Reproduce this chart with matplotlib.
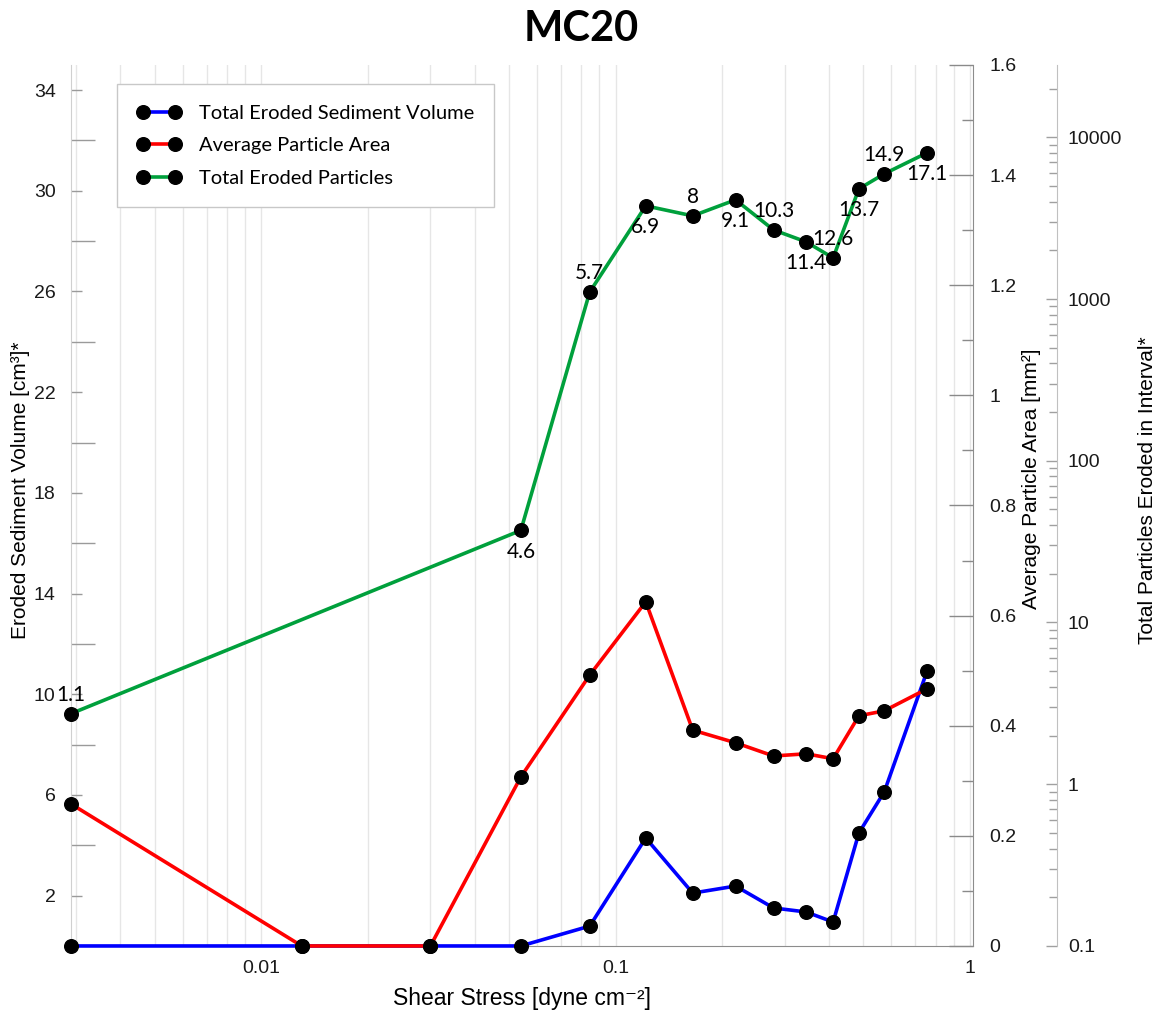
import matplotlib
matplotlib.use("Agg")
import matplotlib.pyplot as plt
from matplotlib.lines import Line2D
from matplotlib.ticker import FixedLocator, NullFormatter, LogLocator, FuncFormatter

# ---- data ---------------------------------------------------------------
shear_stress = [0.0029, 0.013, 0.030, 0.054, 0.0845, 0.1216, 0.165, 0.218,
                0.279, 0.345, 0.411, 0.486, 0.573, 0.757]
eroded_volume = [0, 0, 0, 0, 0.79, 4.29, 2.10, 2.38, 1.51, 1.35, 0.95,
                 4.49, 6.12, 10.92]
particle_area = [0.258, 0, 0, 0.307, 0.492, 0.625, 0.392, 0.369, 0.345,
                 0.349, 0.340, 0.418, 0.427, 0.467]
# intervals with no counted particles are left out of the particle series
particle_shear = [0.0029, 0.054, 0.0845, 0.1216, 0.165, 0.218, 0.279, 0.345,
                  0.411, 0.486, 0.573, 0.757]
particle_count = [2.73, 37.1, 1105, 3767, 3266, 4104, 2675, 2254, 1795,
                  4799, 5942, 8018]
interval_labels = ["1.1", "4.6", "5.7", "6.9", "8", "9.1", "10.3", "11.4",
                   "12.6", "13.7", "14.9", "17.1"]

series_names = ["Total Eroded Sediment Volume", "Average Particle Area",
                "Total Eroded Particles"]
series_colors = ["#0000ff", "#ff0000", "#00a03c"]

volume_ticks = [2, 6, 10, 14, 18, 22, 26, 30, 34]
volume_minor = [4, 8, 12, 16, 20, 24, 28, 32]
area_ticks = [0, 0.2, 0.4, 0.6, 0.8, 1.0, 1.2, 1.4, 1.6]
area_minor = [0.1, 0.3, 0.5, 0.7, 0.9, 1.1, 1.3, 1.5]
x_ticks = [0.01, 0.1, 1]

# ---- style --------------------------------------------------------------
tick_font = ["Liberation Sans", "DejaVu Sans"]
label_font = ["Liberation Sans Narrow", "Liberation Sans", "DejaVu Sans"]
note_font = ["Lato", "DejaVu Sans"]
tick_color = "#1a1a1a"
tick_size = 14
label_size = 15
line_kw = dict(lw=2.6, marker="o", ms=9.8, mfc="black", mec="black",
               clip_on=False, zorder=3)

fig = plt.figure(figsize=(11.63, 10.10), dpi=100)
ax = fig.add_axes([0.061, 0.0634, 0.7756, 0.8723])
ax2 = ax.twinx()
ax3 = ax.twinx()
ax3.spines["right"].set_position(("axes", 1.093))

# ---- lines --------------------------------------------------------------
ax.plot(shear_stress, eroded_volume, color=series_colors[0], **line_kw)
ax2.plot(shear_stress, particle_area, color=series_colors[1], **line_kw)
ax3.plot(particle_shear, particle_count, color=series_colors[2], **line_kw)

for i, (xv, yv, txt) in enumerate(zip(particle_shear, particle_count,
                                      interval_labels)):
    dy = 13.5 if i % 2 == 0 else -15.5
    ax3.annotate(txt, (xv, yv), xytext=(0, dy), textcoords="offset points",
                 ha="center", va="center", fontsize=15, family=note_font,
                 color="black", annotation_clip=False)

# ---- x axis -------------------------------------------------------------
ax.set_xscale("log")
ax.set_xlim(0.0029, 1.02)
ax.xaxis.set_major_locator(FixedLocator(x_ticks))
ax.xaxis.set_major_formatter(FuncFormatter(lambda v, p: f"{v:g}"))
ax.xaxis.set_minor_locator(LogLocator(base=10, subs=range(1, 10), numticks=20))
ax.xaxis.set_minor_formatter(NullFormatter())
ax.tick_params(axis="x", which="both", length=0, pad=10, labelsize=tick_size,
               labelcolor=tick_color)
ax.grid(True, axis="x", which="both", color="#e6e6e6", lw=1)
ax.set_axisbelow(True)
ax.set_xlabel("Shear Stress [dyne cm⁻²]", fontsize=16.5, family=label_font,
              labelpad=7)

# ---- left axis ----------------------------------------------------------
ax.set_ylim(0, 35)
ax.yaxis.set_major_locator(FixedLocator(volume_ticks))
ax.yaxis.set_minor_locator(FixedLocator(volume_minor))
ax.yaxis.set_major_formatter(FuncFormatter(lambda v, p: f"{v:g}"))
ax.tick_params(axis="y", which="major", direction="in", length=8, width=1,
               color="#9a9a9a", labelsize=tick_size, labelcolor=tick_color,
               pad=11)
ax.tick_params(axis="y", which="minor", direction="in", length=17, width=1,
               color="#9a9a9a")
ax.set_ylabel("Eroded Sediment Volume [cm³]*", fontsize=label_size,
              family=label_font)
ax.yaxis.set_label_coords(-0.0554, 0.5176)
ax.yaxis.label.set_verticalalignment("center")

# ---- area axis ----------------------------------------------------------
ax2.set_ylim(0, 1.6)
ax2.yaxis.set_major_locator(FixedLocator(area_ticks))
ax2.yaxis.set_minor_locator(FixedLocator(area_minor))
ax2.yaxis.set_major_formatter(FuncFormatter(lambda v, p: f"{v:g}"))
ax2.tick_params(axis="y", which="major", direction="in", length=17, width=1,
                color="#8a8a8a", labelsize=tick_size, labelcolor=tick_color,
                pad=12)
ax2.tick_params(axis="y", which="minor", direction="in", length=8, width=1,
                color="#8a8a8a")
ax2.set_ylabel("Average Particle Area [mm²]", fontsize=label_size,
               family=label_font)
ax2.yaxis.set_label_coords(1.0654, 0.530)
ax2.yaxis.label.set_verticalalignment("center")

# ---- particle count axis ------------------------------------------------
ax3.set_yscale("log")
ax3.set_ylim(0.1, 28000)
ax3.yaxis.set_major_locator(LogLocator(base=10, numticks=20))
ax3.yaxis.set_minor_locator(LogLocator(base=10, subs=range(2, 10), numticks=20))
ax3.yaxis.set_major_formatter(FuncFormatter(lambda v, p: f"{v:g}"))
ax3.yaxis.set_minor_formatter(NullFormatter())
ax3.tick_params(axis="y", which="major", direction="in", length=8, width=1,
                color="#a0a0a0", labelsize=tick_size, labelcolor=tick_color,
                pad=8)
ax3.tick_params(axis="y", which="minor", direction="in", length=6, width=1,
                color="#a0a0a0")
ax3.set_ylabel("Total Particles Eroded in Interval*", fontsize=label_size,
               family=label_font)
ax3.yaxis.set_label_coords(1.193, 0.5176)
ax3.yaxis.label.set_verticalalignment("center")

for a in (ax2, ax3):
    a.set_xlim(ax.get_xlim())

for lbl in ax.get_xticklabels() + ax.get_yticklabels() + \
        ax2.get_yticklabels() + ax3.get_yticklabels():
    lbl.set_family(tick_font)

# ---- spines -------------------------------------------------------------
for a in (ax, ax2, ax3):
    a.spines["top"].set_visible(False)
ax.spines["left"].set_color("#d0d0d0")
ax.spines["bottom"].set_color("#8c8c8c")
ax.spines["right"].set_visible(False)
ax2.spines["left"].set_visible(False)
ax2.spines["bottom"].set_visible(False)
ax2.spines["right"].set_color("#8c8c8c")
ax3.spines["left"].set_visible(False)
ax3.spines["bottom"].set_visible(False)
ax3.spines["right"].set_color("#c0c0c0")

# ---- legend -------------------------------------------------------------
handles = [Line2D([0], [0], color=c, lw=2.6, marker="o", ms=9.8,
                  mfc="black", mec="black") for c in series_colors]
leg = ax3.legend(handles, series_names, loc="upper left",
                 bbox_to_anchor=(0.051, 0.978), borderaxespad=0,
                 numpoints=2, handlelength=2.2, handletextpad=0.85,
                 labelspacing=0.78, borderpad=1.0, fancybox=False,
                 framealpha=1, edgecolor="#c8c8c8",
                 prop={"family": note_font, "size": 14.5})
leg.get_frame().set_linewidth(1)

fig.suptitle("MC20", x=0.5, y=0.99, va="top", fontsize=30,
             fontweight="bold", family=["Lato", "DejaVu Sans"])

fig.savefig("out.png", dpi=100)
